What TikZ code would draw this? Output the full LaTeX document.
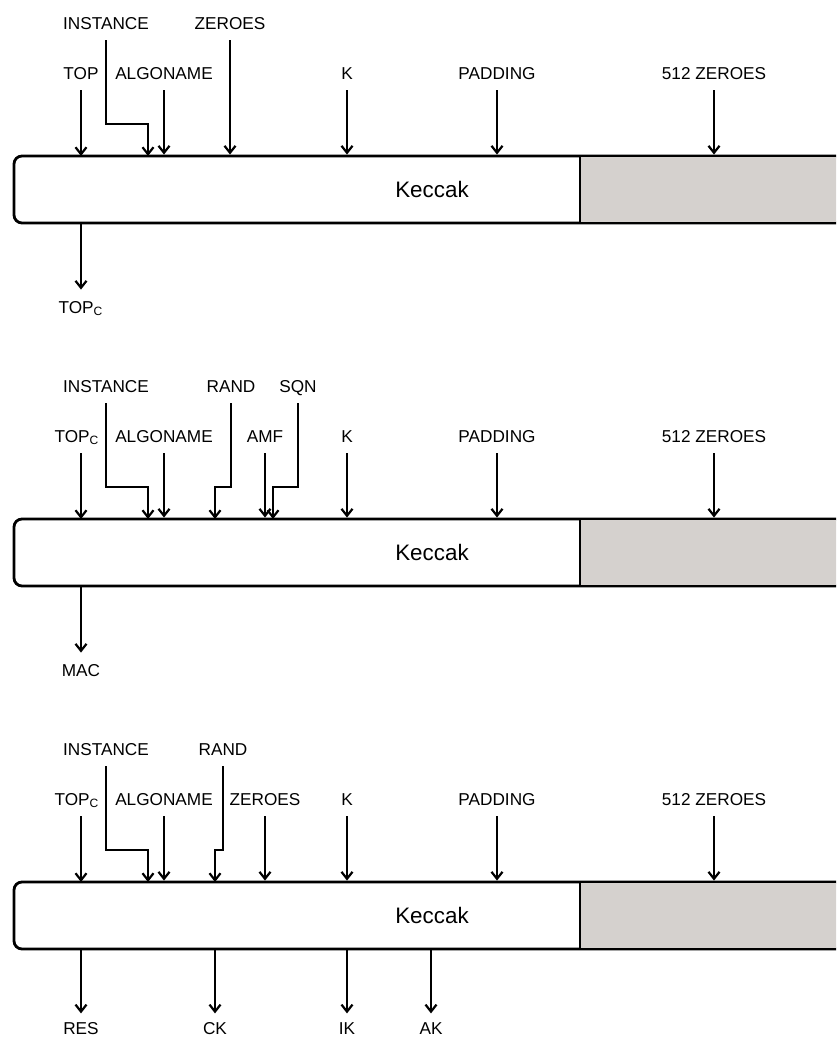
\documentclass[tikz,border=0pt]{standalone}
\usepackage{fontspec}
\setmainfont{Liberation Sans}
\usetikzlibrary{arrows.meta,calc}
\definecolor{zerogray}{HTML}{D5D1CE}

\begin{document}
\begin{tikzpicture}[x=0.5pt,y=0.5pt,
 lbl/.style={font=\fontsize{8.6}{10}\selectfont,text height=6.2pt,text depth=0pt,inner xsep=0pt,inner ysep=5.4pt},
 arr/.style={line width=1.1pt,-{Straight Barb[length=3.5pt,width=5.5pt]}},
 kbox/.style={draw,line width=1.4pt,fill=white,rounded corners=4pt,minimum width=418pt,minimum height=33.5pt,inner sep=0pt,font=\fontsize{11.2}{13}\selectfont}]
\clip (0,0) rectangle (836,1038);
% the three Keccak blocks and what they share
\foreach \k/\p in {0/1,1/2,2/3} {
 \begin{scope}[shift={(0,815-363*\k)}]
  \node[kbox] (kc\p) at (432,33.5) {Keccak};
  \fill[zerogray] (580,1.4) rectangle (850,65.6);
  \draw[line width=0.8pt] (580,1.4) -- (580,65.6);
  \foreach \n/\x/\txt in {alg/164/ALGONAME,k/347/K,pad/497/PADDING,zer/714/512 ZEROES} {
   \node[lbl] (\n\p) at (\x,150) {\txt};
   \draw[arr] (\n\p.south) -- (\n\p.south |- kc\p.north);
  }
  \coordinate (topin\p) at (81,67);
  \coordinate (instin\p) at (148,67);
  \node[lbl] (inst\p) at (106,200) {INSTANCE};
  \draw[arr] (inst\p.south) |- ([yshift=16pt]instin\p) -- (instin\p);
 \end{scope}}
% 1: TOP in, TOP_C out
\begin{scope}[shift={(0,815)}]
 \node[lbl] (top1) at (81,150) {TOP};
 \draw[arr] (topin1 |- top1.south) -- (topin1);
 \node[lbl] (zeros1) at (230,200) {ZEROES};
 \draw[arr] (zeros1.south) -- (zeros1.south |- kc1.north);
 \node[lbl] (topc1) at (81,-84) {TOP\textsubscript{C}};
 \draw[arr] (topc1.north |- kc1.south) -- (topc1.north);
\end{scope}
% 2: MAC
\begin{scope}[shift={(0,452)}]
 \node[lbl] (top2) at (77,150) {TOP\textsubscript{C}};
 \draw[arr] (topin2 |- top2.south) -- (topin2);
 \coordinate (randin2) at (215,67);
 \node[lbl] (rand2) at (231,200) {RAND};
 \draw[arr] (rand2.south) |- ([yshift=16pt]randin2) -- (randin2);
 \node[lbl] (amf2) at (265,150) {AMF};
 \draw[arr] (amf2.south) -- (amf2.south |- kc2.north);
 \coordinate (sqnin2) at (273,67);
 \node[lbl] (sqn2) at (298,200) {SQN};
 \draw[arr] (sqn2.south) |- ([yshift=16pt]sqnin2) -- (sqnin2);
 \node[lbl] (mac2) at (81,-84) {MAC};
 \draw[arr] (mac2.north |- kc2.south) -- (mac2.north);
\end{scope}
% 3: RES, CK, IK, AK
\begin{scope}[shift={(0,89)}]
 \node[lbl] (top3) at (77,150) {TOP\textsubscript{C}};
 \draw[arr] (topin3 |- top3.south) -- (topin3);
 \coordinate (randin3) at (215,67);
 \node[lbl] (rand3) at (223,200) {RAND};
 \draw[arr] (rand3.south) |- ([yshift=16pt]randin3) -- (randin3);
 \node[lbl] (zeros3) at (265,150) {ZEROES};
 \draw[arr] (zeros3.south) -- (zeros3.south |- kc3.north);
 \foreach \n/\x/\txt in {res/81/RES,ck/215/CK,ik/347/IK,ak/431/AK} {
  \node[lbl,inner ysep=4pt] (\n3) at (\x,-79) {\txt};
  \draw[arr] (\n3.north |- kc3.south) -- (\n3.north);
 }
\end{scope}
\end{tikzpicture}
\end{document}
